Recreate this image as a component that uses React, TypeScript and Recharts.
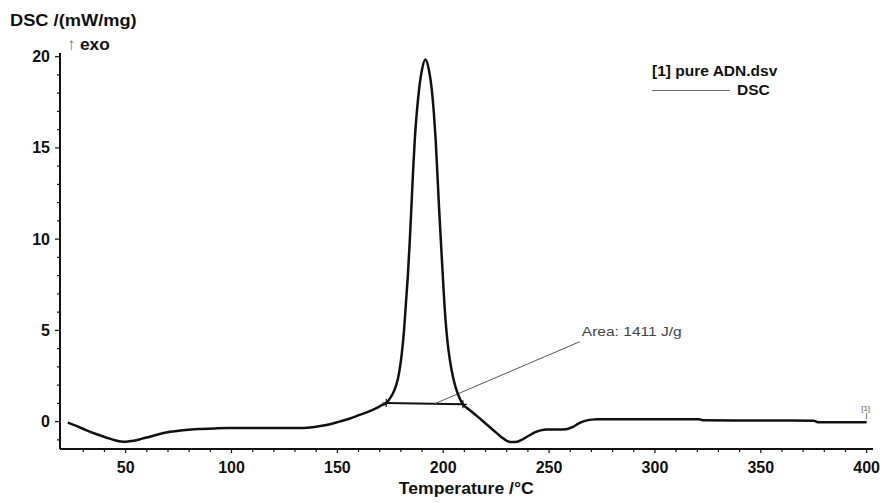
import { LineChart, Line, XAxis, YAxis, ReferenceLine, ReferenceDot } from "recharts";

// DSC trace of pure ADN
const temperature = [
  22.7, 27, 31, 36, 41, 45, 48, 50, 53, 57, 61, 66, 71, 76, 81, 86, 92, 98, 110, 120,
  132, 137, 142, 147, 151, 156, 160.5, 165, 168.4, 171, 173.1, 175, 177, 178.5, 179.4, 180.5,
  181.5, 182.4, 183.3, 184.2, 185, 185.8, 186.6, 187.5, 188.6, 190, 191.6, 193.2, 194.6,
  195.6, 196.4, 197.2, 198, 198.9, 199.8, 200.6, 201.5, 202.5, 204, 205.8, 207.5, 209.3, 212, 216,
  220, 224, 227.5, 230, 232.5, 235, 237, 240, 243, 246, 249, 254, 258, 261, 264, 267, 270,
  273, 290, 321, 323, 350, 375, 377, 400,
];
const dsc = [
  -0.05, -0.25, -0.45, -0.68, -0.88, -1.02, -1.09, -1.1, -1.06, -0.96, -0.84, -0.68, -0.56,
  -0.48, -0.43, -0.4, -0.37, -0.35, -0.35, -0.35, -0.35, -0.32, -0.24, -0.13, 0, 0.17, 0.37,
  0.56, 0.74, 0.9, 1.02, 1.3, 1.74, 2.3, 2.84, 3.8, 5.0, 6.5, 8.0, 9.9, 11.8, 13.8, 15.5,
  16.9, 18.2, 19.3, 19.84, 19.3, 18.2, 16.9, 15.5, 13.7, 11.8, 9.9, 8.0, 6.4, 5.0, 3.9, 2.8,
  1.9, 1.35, 0.95, 0.68, 0.3, -0.1, -0.5, -0.85, -1.05, -1.12, -1.1, -1.0, -0.8, -0.6, -0.48,
  -0.43, -0.43, -0.42, -0.3, -0.1, 0.04, 0.11, 0.13, 0.13, 0.13, 0.07, 0.06, 0.05, -0.03, -0.03,
];

const xTicks = [30, 40, 50, 60, 70, 80, 90, 100, 110, 120, 130, 140, 150, 160, 170, 180, 190, 200,
  210, 220, 230, 240, 250, 260, 270, 280, 290, 300, 310, 320, 330, 340, 350, 360, 370, 380, 390, 400];
const xTickLabels = [50, 100, 150, 200, 250, 300, 350, 400];
const yTicks = [-1, 0, 1, 2, 3, 4, 5, 6, 7, 8, 9, 10, 11, 12, 13, 14, 15, 16, 17, 18, 19, 20];
const yTickLabels = [0, 5, 10, 15, 20];

// peak integration baseline and area leader line
const baselineStart = { x: 173.1, y: 1.02 };
const baselineEnd = { x: 209.3, y: 0.95 };
const leaderStart = { x: 196, y: 0.98 };
const leaderEnd = { x: 264.5, y: 4.38 };
const areaText = "Area: 1411 J/g";

const chartData = temperature.map((t, i) => ({ t, dsc: dsc[i] }));

const FONT = "'Liberation Sans', Arial, sans-serif";

function XTick(props: any) {
  const { x, y, payload } = props;
  const major = xTickLabels.includes(payload.value);
  return (
    <g>
      <line x1={x} x2={x} y1={y} y2={y + (major ? 4 : 3)} stroke="#111" strokeWidth={1.2} />
      {major && (
        <text x={x} y={y + 18} textAnchor="middle" dominantBaseline="central"
          fontSize={16} fontWeight="bold" fontFamily={FONT} fill="#111">
          {payload.value}
        </text>
      )}
    </g>
  );
}

function YTick(props: any) {
  const { x, y, payload } = props;
  const major = yTickLabels.includes(payload.value);
  return (
    <g>
      <line x1={x} x2={x - (major ? 5 : 3)} y1={y} y2={y} stroke="#111" strokeWidth={1.2} />
      {major && (
        <text x={x - 10} y={y} textAnchor="end" dominantBaseline="central"
          fontSize={16} fontWeight="bold" fontFamily={FONT} fill="#111">
          {payload.value}
        </text>
      )}
    </g>
  );
}

function Cross(props: any) {
  const { cx, cy } = props;
  return <path d={`M${cx - 4},${cy}h8M${cx},${cy - 4}v8`} stroke="#111" strokeWidth={1.2} />;
}

export default function App() {
  return (
    <div style={{ position: "absolute", left: 0, top: 0, width: 883, height: 503, background: "#fff", fontFamily: FONT }}>
      <LineChart width={883} height={503} data={chartData} margin={{ top: 53, right: 10, bottom: 0, left: 0 }}>
        <XAxis
          type="number"
          dataKey="t"
          domain={[19, 403]}
          ticks={xTicks}
          interval={0}
          height={54}
          tickSize={0}
          tickMargin={0}
          tickLine={false}
          axisLine={{ stroke: "#111", strokeWidth: 2 }}
          tick={(p: any) => <XTick {...p} />}
          allowDataOverflow
        />
        <YAxis
          type="number"
          domain={[-1.5, 20.2]}
          ticks={yTicks}
          interval={0}
          width={60}
          tickSize={0}
          tickMargin={0}
          tickLine={false}
          axisLine={{ stroke: "#111", strokeWidth: 2 }}
          tick={(p: any) => <YTick {...p} />}
          allowDataOverflow
        />
        <ReferenceLine segment={[baselineStart, baselineEnd]} stroke="#111" strokeWidth={2} ifOverflow="visible" />
        <ReferenceLine segment={[leaderStart, leaderEnd]} stroke="#555" strokeWidth={1} ifOverflow="visible" />
        <Line
          type="monotone"
          dataKey="dsc"
          stroke="#111"
          strokeWidth={2.5}
          dot={false}
          isAnimationActive={false}
        />
        <ReferenceDot x={baselineStart.x} y={baselineStart.y} r={0} shape={(p: any) => <Cross {...p} />} ifOverflow="visible" />
        <ReferenceDot x={baselineEnd.x} y={baselineEnd.y} r={0} shape={(p: any) => <Cross {...p} />} ifOverflow="visible" />
        <ReferenceDot
          x={leaderEnd.x}
          y={leaderEnd.y}
          r={0}
          ifOverflow="visible"
          shape={(p: any) => (
            <text x={p.cx + 2} y={p.cy - 6} fontSize={12} fontFamily={FONT} fill="#444"
              textLength={100} lengthAdjust="spacingAndGlyphs">
              {areaText}
            </text>
          )}
        />
        <ReferenceDot
          x={temperature[temperature.length - 1]}
          y={dsc[dsc.length - 1]}
          r={0}
          ifOverflow="visible"
          shape={(p: any) => (
            <g>
              <line x1={p.cx} x2={p.cx} y1={p.cy - 3} y2={p.cy - 9} stroke="#777" strokeWidth={1} />
              <text x={p.cx - 1} y={p.cy - 11} textAnchor="middle" fontSize={8} fontFamily={FONT} fill="#555">
                [1]
              </text>
            </g>
          )}
        />
      </LineChart>

      <div style={{ position: "absolute", left: 10, top: 12, fontSize: 16, fontWeight: "bold", lineHeight: "18px", color: "#111", transform: "scaleX(1.14)", transformOrigin: "left center", whiteSpace: "nowrap" }}>
        DSC /(mW/mg)
      </div>
      <div style={{ position: "absolute", left: 67, top: 35, lineHeight: "20px", color: "#111", whiteSpace: "nowrap" }}>
        <span style={{ fontSize: 17, color: "#777" }}>↑</span>
        <span style={{ fontSize: 16, fontWeight: "bold", marginLeft: 4, display: "inline-block", transform: "scaleX(1.08)", transformOrigin: "left center" }}>exo</span>
      </div>
      <div style={{ position: "absolute", left: 652, top: 62, fontSize: 14.5, fontWeight: "bold", lineHeight: "18px", color: "#111", transform: "scaleX(1.07)", transformOrigin: "left center", whiteSpace: "nowrap" }}>
        [1] pure ADN.dsv
      </div>
      <div style={{ position: "absolute", left: 652, top: 90, width: 78, height: 1, background: "#666" }} />
      <div style={{ position: "absolute", left: 737, top: 81, fontSize: 14.5, fontWeight: "bold", lineHeight: "18px", color: "#111", transform: "scaleX(1.07)", transformOrigin: "left center", whiteSpace: "nowrap" }}>
        DSC
      </div>
      <div style={{ position: "absolute", left: 0, width: 883, top: 479, textAlign: "center", fontSize: 16, fontWeight: "bold", lineHeight: "20px", color: "#111" }}>
        <span style={{ display: "inline-block", transform: "scaleX(1.1)", marginLeft: 50 }}>Temperature /°C</span>
      </div>
    </div>
  );
}
